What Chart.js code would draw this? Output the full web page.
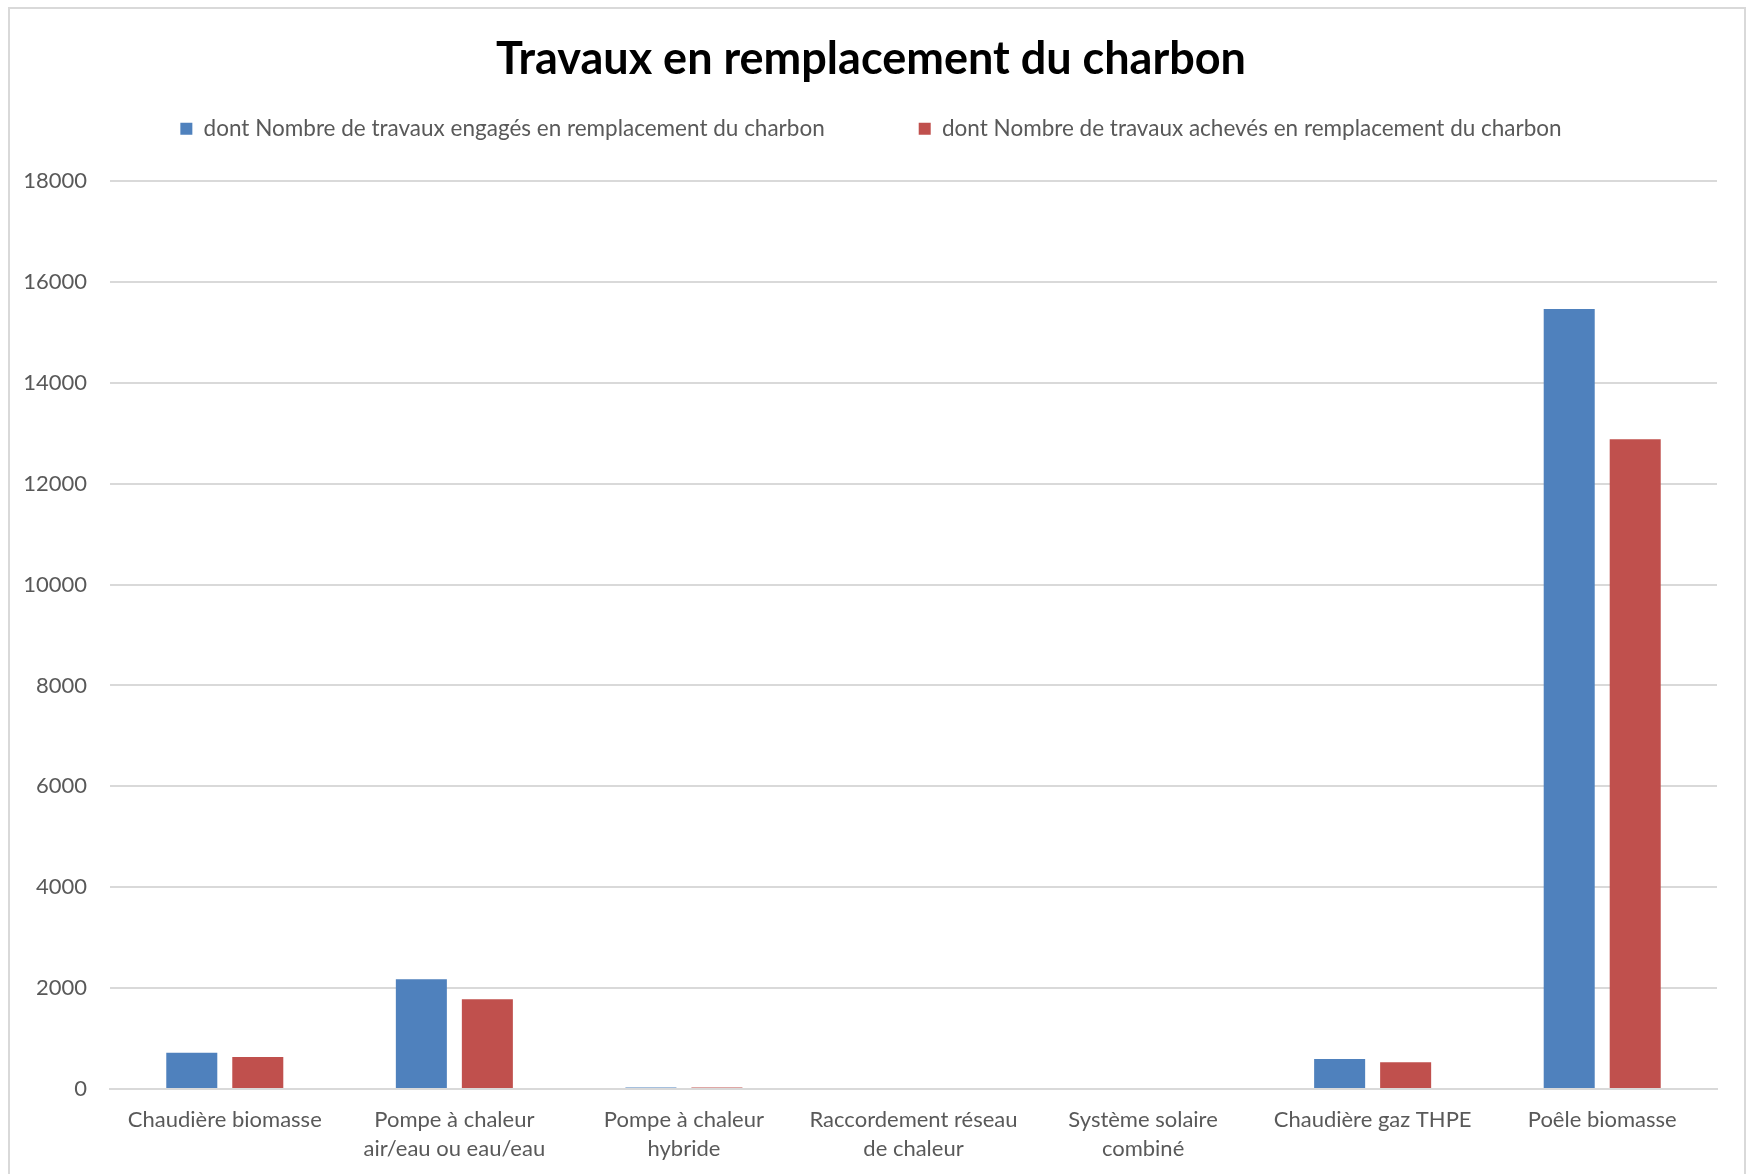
<!DOCTYPE html>
<html>
<head>
<meta charset="utf-8">
<script src="https://cdn.jsdelivr.net/npm/chart.js@4.4.1/dist/chart.umd.min.js"></script>
<style>
  html, body { margin: 0; padding: 0; background: #fff; }
  #wrap { position: absolute; left: 0; top: 0; width: 1748px; height: 1174px; }
</style>
</head>
<body>
<div id="wrap"><canvas id="chart" width="1748" height="1174"></canvas></div>
<script>
/* ---------------- DATA ---------------- */
const categories = [
  "Chaudière biomasse",
  ["Pompe à chaleur", "air/eau ou eau/eau"],
  ["Pompe à chaleur", "hybride"],
  ["Raccordement réseau", "de chaleur"],
  ["Système solaire", "combiné"],
  "Chaudière gaz THPE",
  "Poêle biomasse",
];
const engages = [720, 2175, 30, 0, 0, 595, 15465];
const acheves = [635, 1780, 28, 0, 0, 530, 12880];
const yTicks = [0, 2000, 4000, 6000, 8000, 10000, 12000, 14000, 16000, 18000];

const FONT = "Lato, 'Open Sans', sans-serif";
const GREY_TEXT = "#595959";
const GRID = "#d9d9d9";

// outer frame like the Excel chart area
const framePlugin = {
  id: "frame",
  beforeDraw(chart) {
    const ctx = chart.ctx;
    ctx.save();
    ctx.fillStyle = "#ffffff";
    ctx.fillRect(0, 0, chart.width, chart.height);
    ctx.strokeStyle = GRID;
    ctx.lineWidth = 2;
    ctx.strokeRect(9, 8, 1736, 1190);
    ctx.restore();
  },
};

new Chart(document.getElementById("chart").getContext("2d"), {
  type: "bar",
  data: {
    labels: categories,
    datasets: [
      {
        label: "dont Nombre de travaux engagés en remplacement du charbon",
        data: engages,
        backgroundColor: "#4f81bd",
        categoryPercentage: 0.575,
        barPercentage: 0.773,
      },
      {
        label: "dont Nombre de travaux achevés en remplacement du charbon",
        data: acheves,
        backgroundColor: "#c0504d",
        categoryPercentage: 0.575,
        barPercentage: 0.773,
      },
    ],
  },
  options: {
    responsive: false,
    animation: false,
    layout: { padding: { left: 25, right: 31, top: 0, bottom: 0 } },
    plugins: {
      title: {
        display: true,
        text: "Travaux en remplacement du charbon",
        color: "#000000",
        font: { family: FONT, size: 45, weight: "bold" },
        padding: { top: 32, bottom: -62.6 },
      },
      // empty spacer between legend and plot area
      subtitle: {
        display: true,
        text: " ",
        weight: 500,
        font: { size: 1 },
        padding: { top: 30, bottom: 0 },
      },
      legend: {
        display: true,
        labels: {
          color: GREY_TEXT,
          font: { family: FONT, size: 22.5 },
          boxWidth: 12,
          boxHeight: 12,
          padding: 94,
        },
      },
      tooltip: { enabled: false },
    },
    scales: {
      x: {
        grid: { display: false, drawTicks: false },
        border: { display: true, color: GRID, width: 2 },
        ticks: {
          color: GREY_TEXT,
          font: { family: FONT, size: 22, lineHeight: 1.3 },
          padding: 17,
          maxRotation: 0,
          autoSkip: false,
        },
        afterFit: (s) => { s.height = 85; },
      },
      y: {
        min: 0,
        max: 18000,
        grid: { color: GRID, lineWidth: 2, drawTicks: false },
        border: { display: false },
        afterBuildTicks: (s) => { s.ticks = yTicks.map((v) => ({ value: v })); },
        ticks: {
          color: GREY_TEXT,
          font: { family: FONT, size: 22 },
          padding: 23,
          callback: (v) => String(v),
        },
        afterFit: (s) => { s.width = 85; },
      },
    },
  },
  plugins: [framePlugin],
});
</script>
</body>
</html>
